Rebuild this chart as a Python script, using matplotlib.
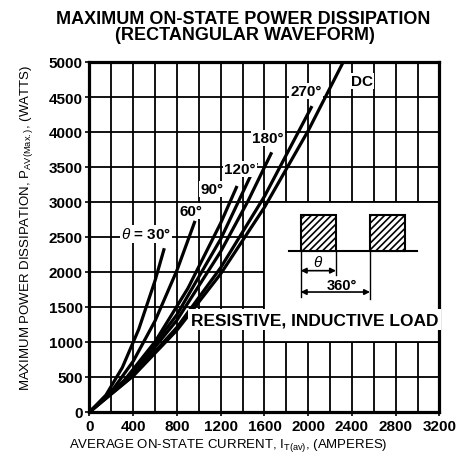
import matplotlib
matplotlib.use("Agg")
import matplotlib.pyplot as plt
from matplotlib.patches import Rectangle

plt.rcParams['font.family'] = ['Liberation Sans', 'DejaVu Sans']
plt.rcParams['mathtext.fontset'] = 'custom'
plt.rcParams['mathtext.rm'] = 'Liberation Sans'
plt.rcParams['mathtext.it'] = 'Liberation Sans:italic'
plt.rcParams['mathtext.bf'] = 'Liberation Sans:bold'
plt.rcParams['mathtext.default'] = 'regular'
plt.rcParams['hatch.linewidth'] = 1.2

# ---- data (current in A, power in W) ----
dc_i = [0, 400, 800, 1200, 1600, 2000, 2320]
dc_p = [0, 515, 1170, 1975, 2925, 4020, 5000]

c270_i = [0, 400, 800, 1200, 1600, 2034]
c270_p = [0, 523, 1210, 2063, 3081, 4370]

c180_i = [0, 400, 800, 1200, 1450, 1666]
c180_p = [0, 548, 1313, 2293, 3016, 3710]

c120_i = [0, 400, 800, 1200, 1529]
c120_p = [0, 568, 1392, 2472, 3560]

c90_i = [0, 300, 600, 900, 1200, 1349]
c90_p = [0, 416, 1005, 1767, 2701, 3229]

c60_i = [0, 200, 400, 600, 800, 965]
c60_p = [0, 292, 726, 1304, 2026, 2730]

c30_i = [0, 150, 300, 450, 600, 684]
c30_p = [0, 241, 635, 1181, 1880, 2340]

x_ticks = [0, 400, 800, 1200, 1600, 2000, 2400, 2800, 3200]
y_ticks = [0, 500, 1000, 1500, 2000, 2500, 3000, 3500, 4000, 4500, 5000]

curve_labels = ["θ = 30°", "60°", "90°", "120°", "180°", "270°", "DC"]

fig = plt.figure(figsize=(4.64, 4.64), dpi=100)
ax = fig.add_axes([89.5 / 464, 1 - 413 / 464, 350 / 464, 350 / 464])
ax.set_xlim(0, 3200)
ax.set_ylim(0, 5000)

ax.set_xticks(x_ticks)
ax.set_xticks(list(range(0, 3201, 200)), minor=True)
ax.set_yticks(y_ticks)
ax.set_axisbelow(True)
ax.grid(True, which='both', color='black', lw=1.3)
ax.tick_params(axis='both', which='both', direction='out', length=3, width=1.2, color='black', pad=2)
ax.tick_params(axis='x', which='minor', length=0)
for lab in ax.get_xticklabels() + ax.get_yticklabels():
    lab.set_fontweight('bold')
    lab.set_fontsize(11)
for s in ax.spines.values():
    s.set_linewidth(2.3)

# white area for the waveform inset
ax.add_patch(Rectangle((1600, 1000), 1600, 2000, facecolor='white', edgecolor='black', lw=1.3, zorder=1))

lw = 2.3
for xs, ys in [(dc_i, dc_p), (c270_i, c270_p), (c180_i, c180_p), (c120_i, c120_p),
               (c90_i, c90_p), (c60_i, c60_p), (c30_i, c30_p)]:
    ax.plot(xs, ys, color='black', lw=lw, solid_capstyle='butt', zorder=4, clip_on=True)

bb = dict(facecolor='white', edgecolor='none', pad=1.0)
label_pos = [(517, 2543), (928, 2871), (1120, 3186), (1376, 3471), (1632, 3914), (1979, 4586), (2491, 4729)]
for txt, (lx, ly) in zip(curve_labels, label_pos):
    if txt.startswith("θ"):
        txt = r"$\mathit{θ}$ = 30°"
    ax.text(lx, ly, txt, fontsize=11, fontweight='bold', ha='center', va='center', bbox=bb, zorder=5)

ax.text(928, 1321, "RESISTIVE, INDUCTIVE LOAD", fontsize=12.5, fontweight='bold',
        ha='left', va='center', zorder=5,
        bbox=dict(facecolor='white', edgecolor='none', pad=2.0))

# inset: rectangular waveform
ax.plot([1824, 2994], [2300, 2300], color='black', lw=1.5, zorder=3)
ax.add_patch(Rectangle((1931, 2300), 323, 514, facecolor='white', edgecolor='black', hatch='/////', lw=1.5, zorder=3))
ax.add_patch(Rectangle((2565, 2300), 320, 514, facecolor='white', edgecolor='black', hatch='/////', lw=1.5, zorder=3))
ax.plot([1931, 1931], [2300, 1643], color='black', lw=1.0, zorder=3)
ax.plot([2254, 2254], [2300, 1957], color='black', lw=1.0, zorder=3)
ax.plot([2565, 2565], [2300, 1614], color='black', lw=1.0, zorder=3)
arr = dict(arrowstyle='<|-|>', color='black', lw=1.2, mutation_scale=8, shrinkA=0, shrinkB=0)
ax.annotate('', xy=(2254, 2019), xytext=(1931, 2019), arrowprops=arr, zorder=3)
ax.annotate('', xy=(2565, 1714), xytext=(1931, 1714), arrowprops=arr, zorder=3)
ax.text(2089, 2150, r"$\mathit{θ}$", fontsize=11, fontweight='bold', ha='center', va='center', zorder=5)
ax.text(2309, 1814, "360°", fontsize=10.5, fontweight='bold', ha='center', va='center', zorder=5)

fig.text(243 / 464, 1 - 19 / 464, "MAXIMUM ON-STATE POWER DISSIPATION", fontsize=13,
         fontweight='bold', ha='center', va='center')
fig.text(245 / 464, 1 - 36 / 464, "(RECTANGULAR WAVEFORM)", fontsize=13,
         fontweight='bold', ha='center', va='center')
fig.text(228 / 464, 1 - 445 / 464, r"AVERAGE ON-STATE CURRENT, I$_{T(av)}$, (AMPERES)",
         fontsize=9.5, ha='center', va='center')
fig.text(26.7 / 464, 1 - 228 / 464, r"MAXIMUM POWER DISSIPATION, P$_{AV(Max.)}$, (WATTS)",
         fontsize=9.5, ha='center', va='center', rotation=90)

fig.savefig("out.png", dpi=100)
